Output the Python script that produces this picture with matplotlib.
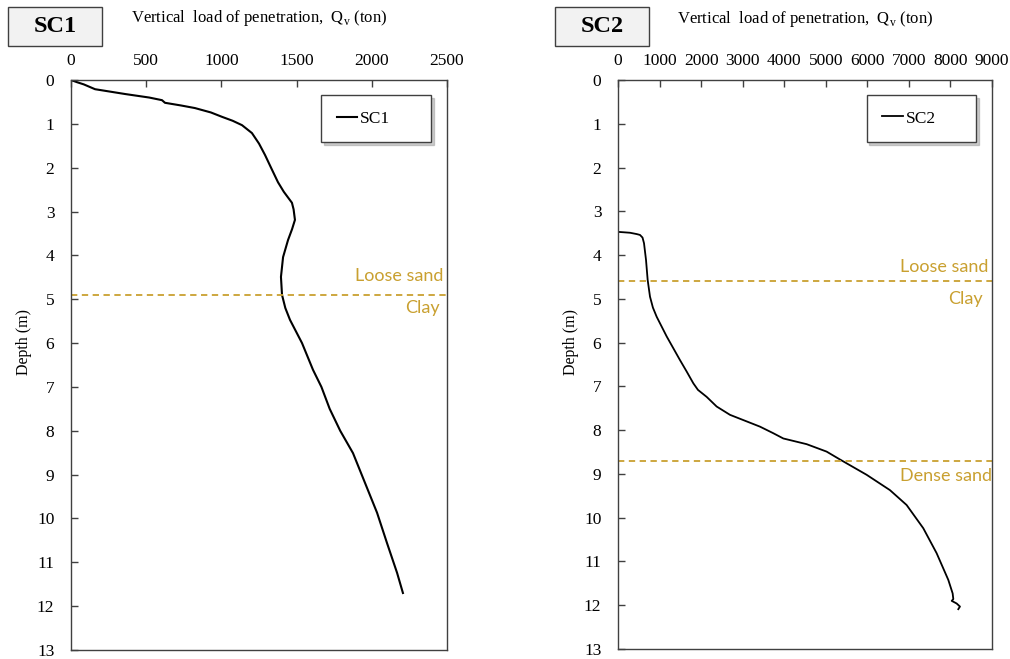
import matplotlib
matplotlib.use('Agg')
import matplotlib.pyplot as plt
from matplotlib.patches import Rectangle

plt.rcParams['font.family'] = 'Liberation Serif'
plt.rcParams['mathtext.fontset'] = 'custom'
plt.rcParams['mathtext.rm'] = 'Liberation Serif'

# SC1 : depth (m) / vertical load (ton)
sc1_depth = [0.00, 0.05, 0.10, 0.21, 0.32, 0.40, 0.46, 0.52, 0.58, 0.64, 0.74, 0.84, 0.93,
             1.03, 1.21, 1.45, 1.71, 2.00, 2.33, 2.55, 2.80, 2.95, 3.19, 3.40, 3.65, 4.04,
             4.49, 4.90, 5.20, 5.47, 6.00, 6.61, 7.00, 7.50, 8.00, 8.51, 9.19, 9.87, 10.56,
             11.24, 11.70]
sc1_load = [0, 40, 85, 160, 360, 520, 605, 625, 730, 824, 930, 1004, 1075,
            1137, 1203, 1250, 1290, 1330, 1376, 1415, 1469, 1480, 1489, 1470, 1443, 1410,
            1396, 1403, 1425, 1456, 1536, 1609, 1665, 1720, 1790, 1875, 1955, 2035, 2101,
            2168, 2207]

# SC2
sc2_depth = [3.47, 3.48, 3.49, 3.52, 3.54, 3.60, 3.73, 4.11, 4.57, 4.95, 5.20, 5.41, 5.86,
             6.40, 6.66, 6.93, 7.08, 7.24, 7.46, 7.65, 7.77, 7.92, 8.07, 8.19, 8.32, 8.49,
             8.67, 9.02, 9.37, 9.71, 10.24, 10.81, 11.42, 11.73, 11.86, 11.90, 11.96, 12.03,
             12.09]
sc2_load = [0, 150, 289, 450, 529, 590, 626, 674, 714, 770, 840, 931, 1172,
            1492, 1652, 1813, 1924, 2134, 2374, 2695, 3016, 3417, 3737, 3978, 4539, 5020,
            5341, 5983, 6544, 6945, 7346, 7667, 7948, 8053, 8069, 8030, 8149, 8229, 8189]

sc1_layers = [4.9]
sc2_layers = [4.6, 8.7]

gold = '#C9A030'
spine_col = '#404040'

fig = plt.figure(figsize=(10.1, 6.59), dpi=100)
ax1 = fig.add_axes([71/1010, 1-650/659, 376/1010, 570/659])
ax2 = fig.add_axes([618/1010, 1-649/659, 374/1010, 569/659])


def setup(ax, xmax, xstep):
    ax.set_xlim(0, xmax)
    ax.set_ylim(13, 0)
    ax.set_xticks(range(0, xmax+1, xstep))
    ax.set_yticks(range(0, 14))
    ax.xaxis.tick_top()
    ax.tick_params(axis='both', direction='in', length=5, width=1, color=spine_col,
                   labelsize=12.5)
    ax.tick_params(axis='x', pad=8)
    ax.tick_params(axis='y', pad=12)
    ax.tick_params(right=False, bottom=False)
    for s in ax.spines.values():
        s.set_color(spine_col)
        s.set_linewidth(1)
    ax.set_ylabel('Depth (m)', fontsize=11.5)
    ax.yaxis.set_label_coords(-0.104, 0.54)
    ax.text(0.5, 1.108, r'Vertical  load of penetration,  Q$_\mathregular{v}$ (ton)',
            transform=ax.transAxes, ha='center', va='center', fontsize=12)
    leg = ax.legend(loc='upper left', bbox_to_anchor=(0.665, 0.0, 0.292, 0.974),
                    mode='expand', fontsize=12.5, frameon=True, fancybox=False,
                    shadow={'color': '#9a9a9a'},
                    borderpad=0.9, handlelength=1.2, handletextpad=0.15, borderaxespad=0)
    leg.get_frame().set_edgecolor(spine_col)
    leg.get_frame().set_linewidth(1)
    leg.get_frame().set_alpha(1)


def layer_label(ax, depth, txt, xr):
    ax.text(xr, depth, txt, transform=ax.get_yaxis_transform(), ha='right',
            va='center', color=gold, fontsize=13, family='Lato')


ax1.plot(sc1_load, sc1_depth, color='black', lw=1.5, label='SC1')
for d in sc1_layers:
    ax1.axhline(d, color=gold, lw=1.3, ls=(0, (3.5, 2.5)))
layer_label(ax1, 4.47, 'Loose sand', 0.99)
layer_label(ax1, 5.2, 'Clay', 0.982)
setup(ax1, 2500, 500)

ax2.plot(sc2_load, sc2_depth, color='black', lw=1.3, label='SC2')
for d in sc2_layers:
    ax2.axhline(d, color=gold, lw=1.3, ls=(0, (3.5, 2.5)))
layer_label(ax2, 4.27, 'Loose sand', 0.99)
layer_label(ax2, 5.0, 'Clay', 0.975)
layer_label(ax2, 9.05, 'Dense sand', 1.0)
setup(ax2, 9000, 1000)

# title boxes
for x0, name in [(8, 'SC1'), (555, 'SC2')]:
    fig.patches.append(Rectangle((x0/1010, 1-46/659), 94/1010, 39/659, transform=fig.transFigure,
                                 facecolor='#F2F2F2', edgecolor=spine_col, lw=1))
    fig.text((x0+47)/1010, 1-27/659, name, ha='center', va='center', fontsize=17.5,
             fontweight='bold')

fig.savefig('out.png', dpi=100)
